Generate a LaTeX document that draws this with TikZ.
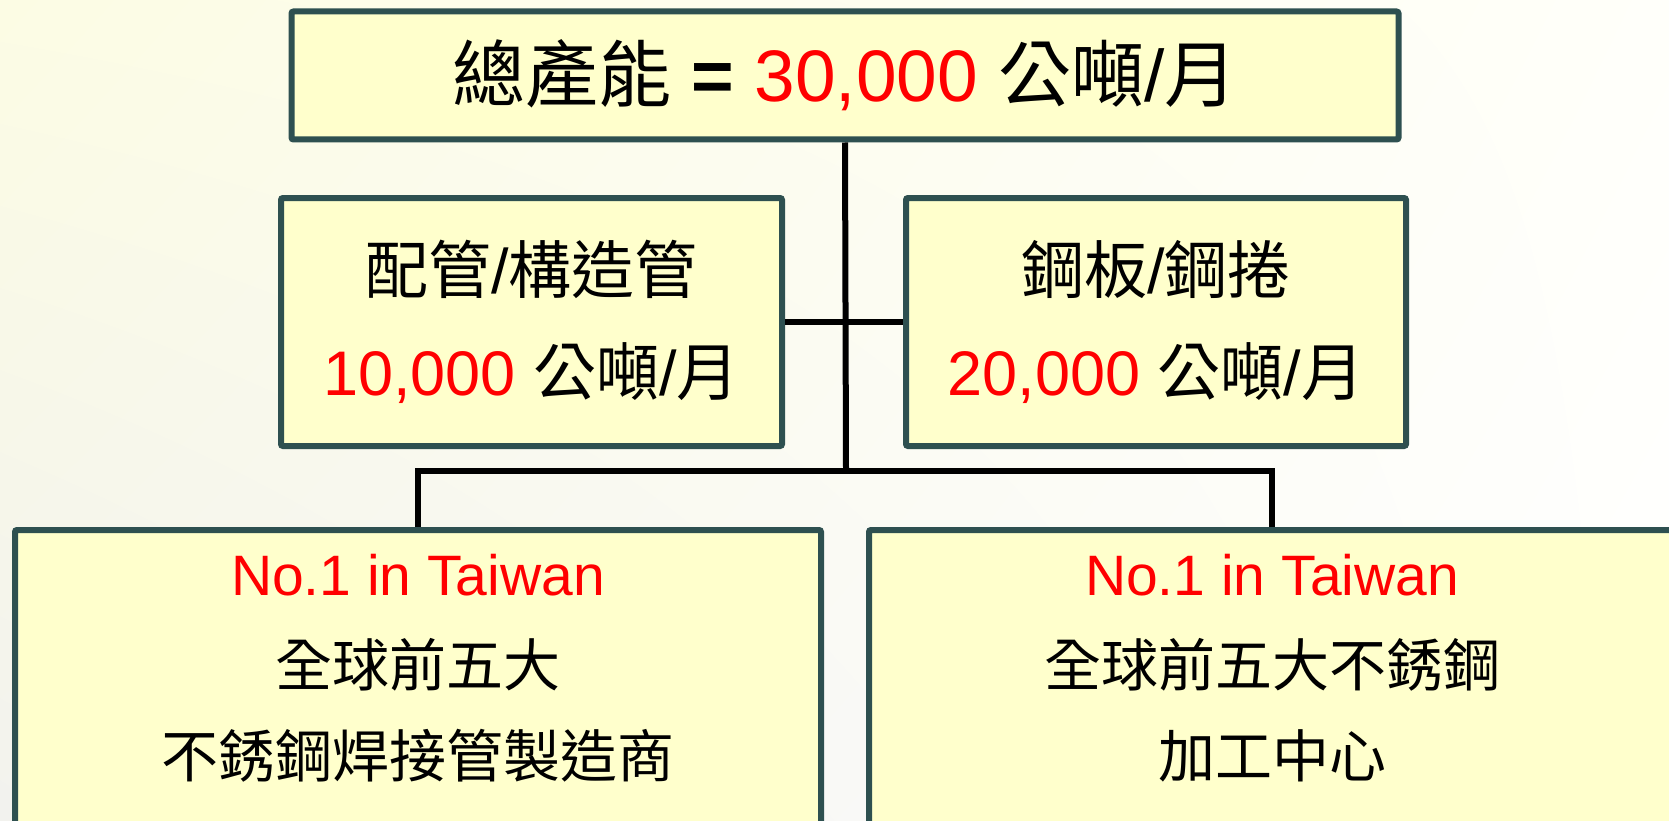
\documentclass[tikz,border=0pt]{standalone}
\usepackage{fontspec}
\usetikzlibrary{shadings}
\setmainfont{Liberation Sans}
\newfontfamily\cjk{Noto Sans CJK TC}
\definecolor{boxfill}{HTML}{FFFFCC}
\definecolor{boxline}{HTML}{2E5050}
\definecolor{bgtop}{HTML}{FCFCE4}
\definecolor{bgbot}{HTML}{F2F2EE}
\definecolor{bgright}{HTML}{FFFFFA}
\definecolor{hl}{HTML}{FF0000}
\tikzset{
  box/.style={draw=boxline, line width=6pt, rounded corners=2pt, fill=boxfill, inner sep=0pt, align=center},
  conn/.style={draw=black, line width=6pt},
  toptext/.style={font=\fontsize{73}{80}\selectfont},
  midtext/.style={font=\fontsize{63}{102}\selectfont},
  bottext/.style={font=\fontsize{57}{91}\selectfont, align=center}
}
\begin{document}
\begin{tikzpicture}[x=1pt, y=-1pt]
\useasboundingbox (0,0) rectangle (1669,821);
\clip (0,0) rectangle (1669,821);
\shade[upper left=bgtop, upper right=bgright, lower left=bgbot, lower right=white] (0,0) rectangle (1669,821);
% boxes
\node[box, toptext, minimum width=1107pt, minimum height=128pt] (top) at (845,75.5)
  {{\cjk 總產能} \textbf{=} \textcolor{hl}{30,000} {\cjk 公噸}/{\cjk 月}};
\node[box, midtext, minimum width=501pt, minimum height=248pt] (midL) at (531.5,322)
  {{\cjk 配管}/{\cjk 構造管}\\\textcolor{hl}{10,000} {\cjk 公噸}/{\cjk 月}};
\node[box, midtext, minimum width=500pt, minimum height=248pt] (midR) at (1156,322)
  {{\cjk 鋼板}/{\cjk 鋼捲}\\\textcolor{hl}{20,000} {\cjk 公噸}/{\cjk 月}};
\node[box, minimum width=806pt, minimum height=400pt, anchor=north] (botL) at (418,527) {};
\node[box, minimum width=806pt, minimum height=400pt, anchor=north] (botR) at (1272,527) {};
\node[bottext] (botLtext) at ([yshift=-141pt]botL.north)
  {\textcolor{hl}{No.1 in Taiwan}\\{\cjk 全球前五大}\\{\cjk 不銹鋼焊接管製造商}};
\node[bottext] (botRtext) at ([yshift=-141pt]botR.north)
  {\textcolor{hl}{No.1 in Taiwan}\\{\cjk 全球前五大不銹鋼}\\{\cjk 加工中心}};
% connectors
\coordinate (bus) at (846,471);
\draw[conn] (top.south) -- (bus);
\draw[conn] (midL.east) -- (midR.west);
\draw[conn, line join=miter] (botL.north) |- (bus) -| (botR.north);
\end{tikzpicture}
\end{document}
